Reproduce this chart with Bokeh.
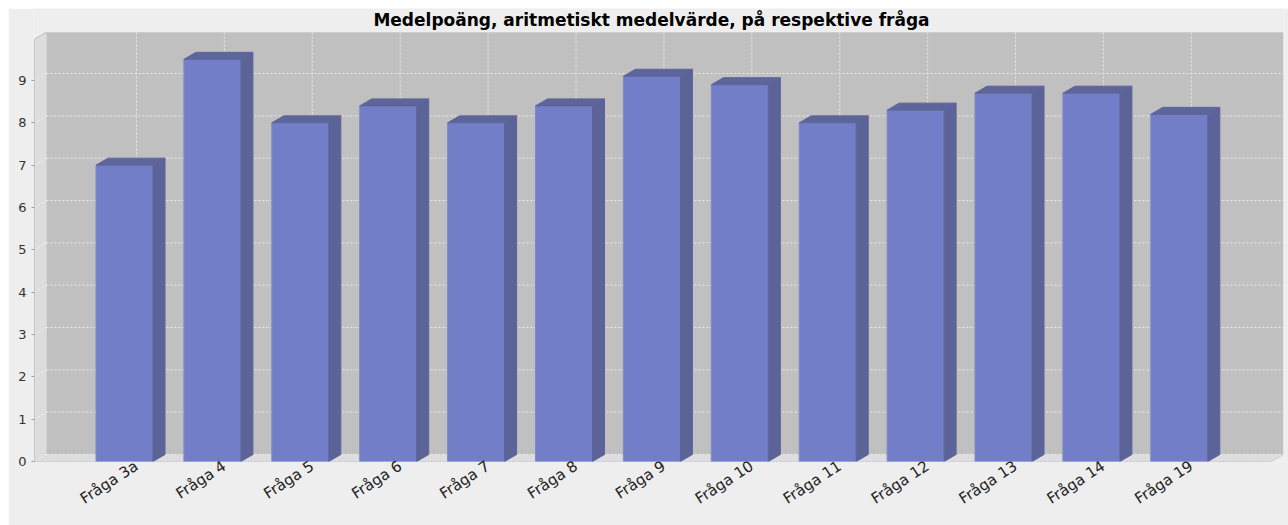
import math
from bokeh.plotting import figure
from bokeh.models import Range1d, FixedTicker, ColumnDataSource
from bokeh.core.properties import value
from bokeh.embed import file_html
from bokeh.resources import INLINE

# ---------------- data ----------------
title_text = "Medelpoäng, aritmetiskt medelvärde, på respektive fråga"
categories = ["Fråga 3a", "Fråga 4", "Fråga 5", "Fråga 6", "Fråga 7", "Fråga 8",
              "Fråga 9", "Fråga 10", "Fråga 11", "Fråga 12", "Fråga 13", "Fråga 14",
              "Fråga 19"]
scores = [7.0, 9.5, 8.0, 8.4, 8.0, 8.4, 9.1, 8.9, 8.0, 8.3, 8.7, 8.7, 8.2]
y_ticks = [0, 1, 2, 3, 4, 5, 6, 7, 8, 9]

# ---------------- layout ----------------
W, H = 1280, 517
ML, MR, MT, MB = 26, 5, 0, 64
FW, FH = W - ML - MR, H - MT - MB
PX_Y = 381 / 9.0          # pixels per value unit
PX_X = 87.9               # pixels per category
FIRST_OFF = 90            # px from frame left to first category centre
DXP, DYP = 12, 7          # 3D offset in px
HALF_W_PX = 28.5

x0 = -FIRST_OFF / PX_X
x1 = x0 + FW / PX_X
y1 = FH / PX_Y
dx = DXP / PX_X
dy = DYP / PX_Y
hw = HALF_W_PX / PX_X
ytop = max(scores) * 1.05

BG = "#EEEEEE"
WALL = "#C0C0C0"
SIDEWALL = "#DDDDDD"
FRONT = "#727FC8"
SIDE = "#5C6398"
TOP = "#5D659A"
FONT = "DejaVu Sans"

p = figure(width=W, height=H, output_backend="svg", toolbar_location=None,
           x_range=Range1d(x0, x1), y_range=Range1d(0, y1),
           min_border_left=ML, min_border_right=MR, min_border_top=MT,
           min_border_bottom=MB)
p.margin = (8, 0, 0, 8)
p.background_fill_color = BG
p.border_fill_color = BG
p.outline_line_color = None
p.xgrid.visible = False
p.ygrid.visible = False

# walls
p.patch([x0, x0, x0 + dx, x0 + dx], [0, ytop, ytop + dy, dy],
        fill_color=SIDEWALL, line_color=None)
p.patch([x0, x1 - dx, x1, x0 + dx], [0, 0, dy, dy],
        fill_color=SIDEWALL, line_color=None)
p.patch([x0 + dx, x1, x1, x0 + dx], [dy, dy, ytop + dy, ytop + dy],
        fill_color=WALL, line_color=None)

# grid lines on back wall and left wall
gx0 = [x0 + dx] * len(y_ticks)
gx1 = [x1] * len(y_ticks)
gy = [t + dy for t in y_ticks]
p.segment(gx0, gy, gx1, gy, line_color="#EAEAEA", line_dash="2 2", line_width=1)
p.segment([x0] * len(y_ticks), y_ticks, gx0, gy, line_color="#F4F4F4",
          line_dash="2 2", line_width=1)
cx = list(range(len(categories)))
p.segment([c + dx for c in cx], [dy] * len(cx), [c + dx for c in cx],
          [ytop + dy] * len(cx), line_color="#EAEAEA", line_dash="2 2", line_width=1)

# axis line and wall edges
p.segment([x0], [0], [x0], [ytop], line_color="#A0A0A0", line_width=1)
p.segment([x0], [ytop], [x0 + dx], [ytop + dy], line_color="#B8B8B8", line_width=1)
p.segment([x0], [0], [x1 - dx], [0], line_color="#9A9AC0", line_dash="2 1", line_width=1)
p.segment([x1 - dx], [0], [x1], [dy], line_color="#C8C8D8", line_width=1)

# bars
src = ColumnDataSource(dict(
    left=[c - hw for c in cx], right=[c + hw for c in cx],
    bottom=[0] * len(cx), top=scores))
p.quad(left="left", right="right", bottom="bottom", top="top", source=src,
       fill_color=FRONT, line_color="#7E8AC8", line_width=1)
side_xs = [[c + hw, c + hw, c + hw + dx, c + hw + dx] for c in cx]
side_ys = [[0, v, v + dy, dy] for v in scores]
p.patches(side_xs, side_ys, fill_color=SIDE, line_color=SIDE)
top_xs = [[c - hw, c + hw, c + hw + dx, c - hw + dx] for c in cx]
top_ys = [[v, v, v + dy, v + dy] for v in scores]
p.patches(top_xs, top_ys, fill_color=TOP, line_color=TOP)

# title
p.text(x=[x0 + (W / 2 + 3 - ML) / PX_X], y=[(FH - 11) / PX_Y], text=[title_text],
       text_font=value(FONT), text_font_style="bold", text_font_size="17px",
       text_align="center", text_baseline="middle", text_color="#000000")

# axes
p.yaxis.ticker = FixedTicker(ticks=y_ticks)
p.yaxis.axis_line_color = None
p.yaxis.major_tick_out = 3
p.yaxis.major_tick_in = 0
p.yaxis.minor_tick_line_color = None
p.yaxis.major_tick_line_color = "#A0A0A0"
p.yaxis.major_label_text_font = FONT
p.yaxis.major_label_text_font_size = "13px"
p.yaxis.major_label_text_color = "#333333"
p.yaxis.major_label_standoff = 5

label_pos = [c + dx for c in cx]
p.xaxis.ticker = FixedTicker(ticks=label_pos)
p.xaxis.major_label_overrides = dict(zip(label_pos, categories))
p.xaxis.major_label_orientation = 0.576
p.xaxis.axis_line_color = None
p.xaxis.major_tick_line_color = None
p.xaxis.minor_tick_line_color = None
p.xaxis.major_tick_out = 0
p.xaxis.major_tick_in = 0
p.xaxis.major_label_text_font = FONT
p.xaxis.major_label_text_font_size = "15px"
p.xaxis.major_label_text_color = "#222222"
p.xaxis.major_label_standoff = 3

open("out.html", "w").write(file_html(p, INLINE))
